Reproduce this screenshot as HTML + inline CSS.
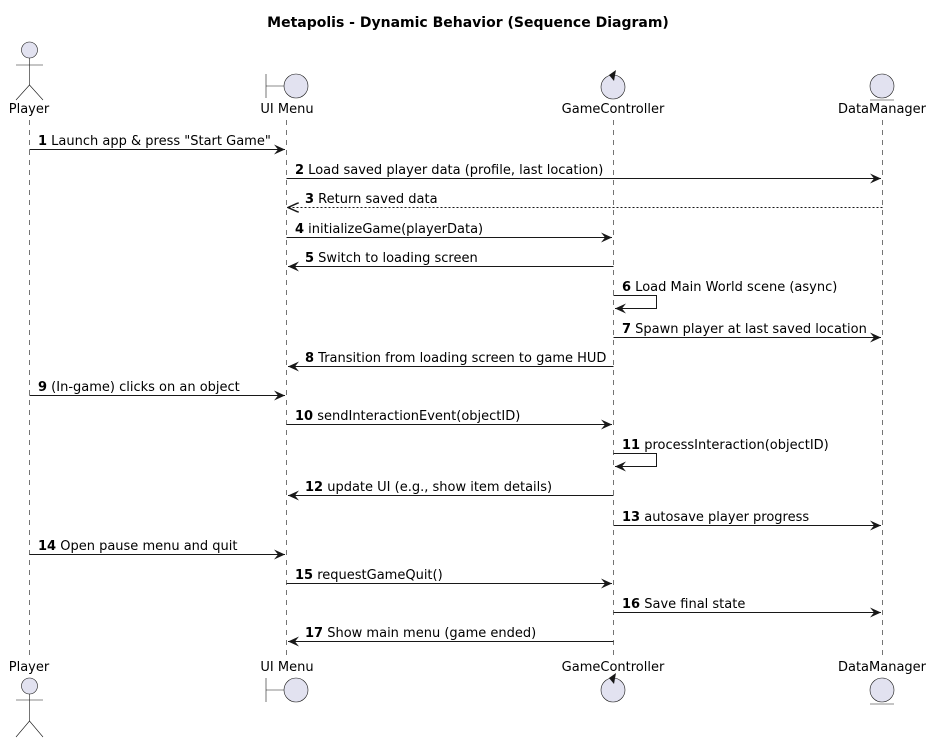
<!DOCTYPE html>
<html><head><meta charset="utf-8"><style>
html,body{margin:0;padding:0;background:#fff;}
svg{display:block;font-family:"DejaVu Sans","Liberation Sans",sans-serif;}
</style></head><body>
<svg width="933" height="739" viewBox="0 0 933 739" xmlns="http://www.w3.org/2000/svg">
<defs>
<marker id="ar" viewBox="0 0 12 10" markerWidth="12" markerHeight="10" refX="11" refY="5" orient="auto" markerUnits="userSpaceOnUse">
<path d="M0,0 L11,5 L0,10 L4,5 Z" fill="#181818"/>
</marker>
<marker id="ao" viewBox="0 0 12 10" markerWidth="12" markerHeight="10" refX="11" refY="5" orient="auto" markerUnits="userSpaceOnUse">
<path d="M0,0 L11,5 L0,10" fill="none" stroke="#181818" stroke-width="1.5"/>
</marker>
</defs>
<text x="468" y="27" text-anchor="middle" font-size="14" font-weight="bold">Metapolis - Dynamic Behavior (Sequence Diagram)</text>

<g stroke="#181818" stroke-width="0.6" stroke-dasharray="5,5">
<line x1="29.5" y1="120" x2="29.5" y2="656"/>
<line x1="286.5" y1="120" x2="286.5" y2="656"/>
<line x1="613.5" y1="120" x2="613.5" y2="656"/>
<line x1="882.5" y1="120" x2="882.5" y2="656"/>
</g>

<g font-size="13" fill="#000" text-anchor="middle">
<text x="29" y="113">Player</text><text x="287" y="113">UI Menu</text><text x="613" y="113">GameController</text><text x="882" y="113">DataManager</text>
<text x="29" y="671">Player</text><text x="287" y="671">UI Menu</text><text x="613" y="671">GameController</text><text x="882" y="671">DataManager</text>
</g>

<g fill="#E2E2F0" stroke="#181818" stroke-width="0.6">
<circle cx="29.5" cy="50" r="8"/>
<line x1="29.5" y1="58" x2="29.5" y2="85"/><line x1="16" y1="65" x2="43" y2="65"/>
<polyline points="16,100 29.5,85 43,100" fill="none"/>
<line x1="266" y1="74" x2="266" y2="98"/><line x1="266" y1="86" x2="284" y2="86"/>
<circle cx="296" cy="86" r="12"/>
<circle cx="613" cy="87" r="12"/>
<circle cx="882" cy="86" r="12"/><line x1="870" y1="100" x2="894" y2="100"/>
<circle cx="29.5" cy="686" r="8"/>
<line x1="29.5" y1="694" x2="29.5" y2="721"/><line x1="16" y1="700" x2="43" y2="700"/>
<polyline points="16,737 29.5,721 43,737" fill="none"/>
<line x1="266" y1="678" x2="266" y2="702"/><line x1="266" y1="690" x2="284" y2="690"/>
<circle cx="296" cy="690" r="12"/>
<circle cx="613" cy="690" r="12"/>
<circle cx="882" cy="690" r="12"/><line x1="870" y1="704" x2="894" y2="704"/>
</g>
<path d="M616,70 L609,75 L614,81 Z" fill="#181818"/>
<path d="M616,673 L609,678 L614,684 Z" fill="#181818"/>

<g stroke="#181818" stroke-width="1" fill="none">
<line x1="29.5" y1="149.5" x2="285" y2="149.5" marker-end="url(#ar)"/>
<line x1="286.5" y1="178.5" x2="881" y2="178.5" marker-end="url(#ar)"/>
<line x1="882.5" y1="207.5" x2="288" y2="207.5" stroke-dasharray="2,2" marker-end="url(#ao)"/>
<line x1="286.5" y1="237.5" x2="612" y2="237.5" marker-end="url(#ar)"/>
<line x1="613.5" y1="266.5" x2="288" y2="266.5" marker-end="url(#ar)"/>
<polyline points="613.5,295.5 656.5,295.5 656.5,308.5 615,308.5" marker-end="url(#ar)"/>
<line x1="613.5" y1="337.5" x2="881" y2="337.5" marker-end="url(#ar)"/>
<line x1="613.5" y1="366.5" x2="288" y2="366.5" marker-end="url(#ar)"/>
<line x1="29.5" y1="395.5" x2="285" y2="395.5" marker-end="url(#ar)"/>
<line x1="286.5" y1="424.5" x2="612" y2="424.5" marker-end="url(#ar)"/>
<polyline points="613.5,453.5 656.5,453.5 656.5,466.5 615,466.5" marker-end="url(#ar)"/>
<line x1="613.5" y1="495.5" x2="288" y2="495.5" marker-end="url(#ar)"/>
<line x1="613.5" y1="525.5" x2="881" y2="525.5" marker-end="url(#ar)"/>
<line x1="29.5" y1="554.5" x2="285" y2="554.5" marker-end="url(#ar)"/>
<line x1="286.5" y1="583.5" x2="612" y2="583.5" marker-end="url(#ar)"/>
<line x1="613.5" y1="612.5" x2="881" y2="612.5" marker-end="url(#ar)"/>
<line x1="613.5" y1="641.5" x2="288" y2="641.5" marker-end="url(#ar)"/>
</g>

<g font-size="13" fill="#000">
<text x="38" y="145"><tspan font-weight="bold">1</tspan> Launch app &amp; press "Start Game"</text>
<text x="295" y="174"><tspan font-weight="bold">2</tspan> Load saved player data (profile, last location)</text>
<text x="305" y="203"><tspan font-weight="bold">3</tspan> Return saved data</text>
<text x="295" y="233"><tspan font-weight="bold">4</tspan> initializeGame(playerData)</text>
<text x="305" y="262"><tspan font-weight="bold">5</tspan> Switch to loading screen</text>
<text x="622" y="291"><tspan font-weight="bold">6</tspan> Load Main World scene (async)</text>
<text x="622" y="333"><tspan font-weight="bold">7</tspan> Spawn player at last saved location</text>
<text x="305" y="362"><tspan font-weight="bold">8</tspan> Transition from loading screen to game HUD</text>
<text x="38" y="391"><tspan font-weight="bold">9</tspan> (In-game) clicks on an object</text>
<text x="295" y="420"><tspan font-weight="bold">10</tspan> sendInteractionEvent(objectID)</text>
<text x="622" y="449"><tspan font-weight="bold">11</tspan> processInteraction(objectID)</text>
<text x="305" y="491"><tspan font-weight="bold">12</tspan> update UI (e.g., show item details)</text>
<text x="622" y="521"><tspan font-weight="bold">13</tspan> autosave player progress</text>
<text x="38" y="550"><tspan font-weight="bold">14</tspan> Open pause menu and quit</text>
<text x="295" y="579"><tspan font-weight="bold">15</tspan> requestGameQuit()</text>
<text x="622" y="608"><tspan font-weight="bold">16</tspan> Save final state</text>
<text x="305" y="637"><tspan font-weight="bold">17</tspan> Show main menu (game ended)</text>
</g>
</svg>
</body></html>
